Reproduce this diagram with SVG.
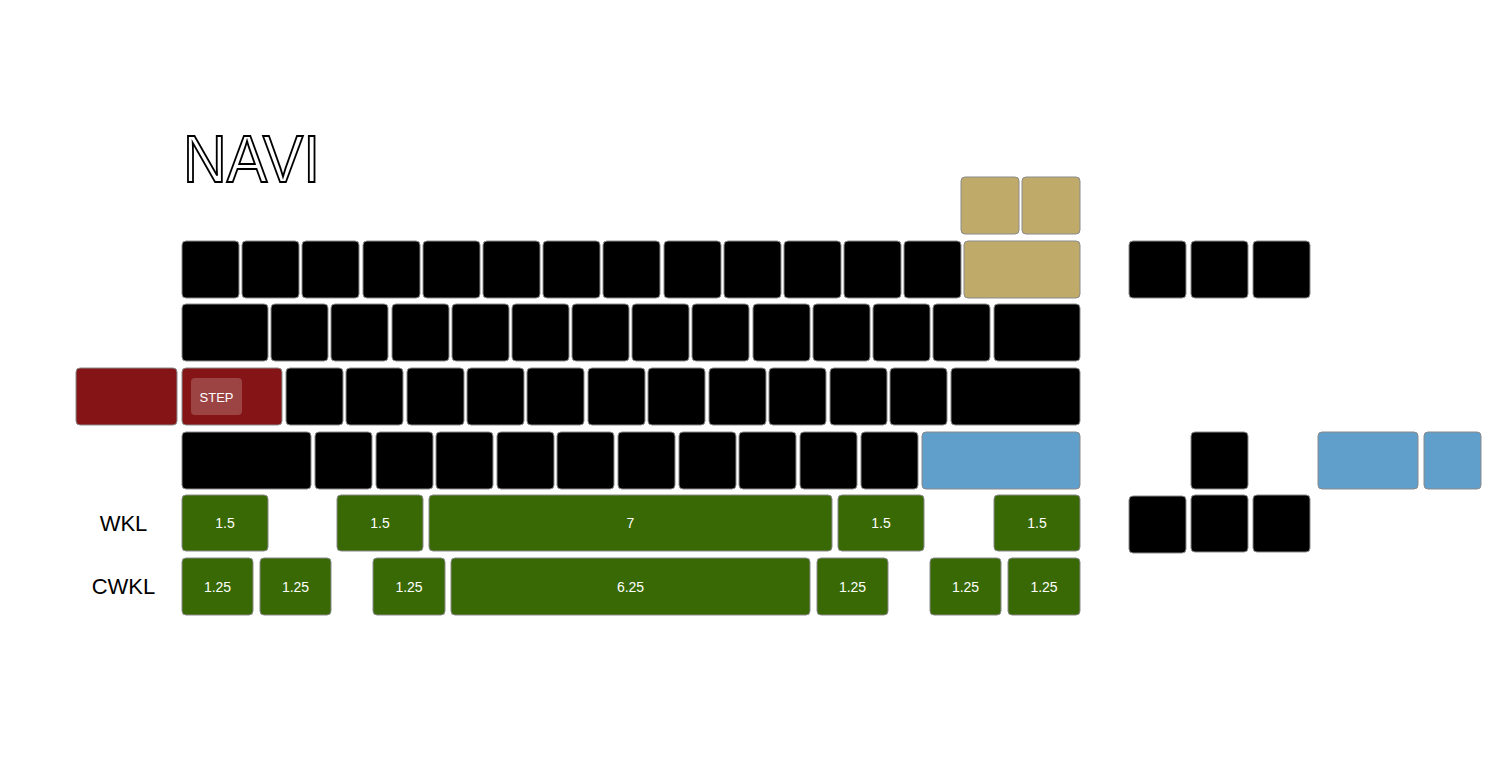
<svg xmlns="http://www.w3.org/2000/svg" width="1512" height="772" viewBox="0 0 1512 772">
<style>
.k{stroke:#8a8a8a;stroke-width:1}
.b{fill:#000}
.t{fill:#c0aa6a}
.r{fill:#841416}
.bl{fill:#609ecb}
.g{fill:#386904}
.lbl{font-family:"Liberation Sans",Arial,sans-serif;font-size:14px;fill:#fff;text-anchor:middle;dominant-baseline:central}
.row{font-family:"Liberation Sans",Arial,sans-serif;font-size:22px;fill:#000;text-anchor:middle;dominant-baseline:central}
</style>
<rect width="1512" height="772" fill="#fff"/>
<text id="title" x="183" y="182" font-family="Liberation Sans, Arial, sans-serif" font-size="66" fill="#fff" stroke="#000" stroke-width="2" textLength="137" lengthAdjust="spacingAndGlyphs">NAVI</text>
<g id="row0">
<rect class="k t" x="961" y="177" width="58" height="57" rx="4"/>
<rect class="k t" x="1022" y="177" width="58" height="57" rx="4"/>
</g>
<g id="row1">
<rect class="k b" x="182" y="241" width="57" height="57" rx="4"/>
<rect class="k b" x="242" y="241" width="57" height="57" rx="4"/>
<rect class="k b" x="302" y="241" width="57" height="57" rx="4"/>
<rect class="k b" x="363" y="241" width="57" height="57" rx="4"/>
<rect class="k b" x="423" y="241" width="57" height="57" rx="4"/>
<rect class="k b" x="483" y="241" width="57" height="57" rx="4"/>
<rect class="k b" x="543" y="241" width="57" height="57" rx="4"/>
<rect class="k b" x="603" y="241" width="57" height="57" rx="4"/>
<rect class="k b" x="664" y="241" width="57" height="57" rx="4"/>
<rect class="k b" x="724" y="241" width="57" height="57" rx="4"/>
<rect class="k b" x="784" y="241" width="57" height="57" rx="4"/>
<rect class="k b" x="844" y="241" width="57" height="57" rx="4"/>
<rect class="k b" x="904" y="241" width="57" height="57" rx="4"/>
<rect class="k t" x="964" y="241" width="116" height="57" rx="4"/>
</g>
<g id="row2">
<rect class="k b" x="182" y="304" width="86" height="57" rx="4"/>
<rect class="k b" x="271" y="304" width="57" height="57" rx="4"/>
<rect class="k b" x="331" y="304" width="57" height="57" rx="4"/>
<rect class="k b" x="392" y="304" width="57" height="57" rx="4"/>
<rect class="k b" x="452" y="304" width="57" height="57" rx="4"/>
<rect class="k b" x="512" y="304" width="57" height="57" rx="4"/>
<rect class="k b" x="572" y="304" width="57" height="57" rx="4"/>
<rect class="k b" x="632" y="304" width="57" height="57" rx="4"/>
<rect class="k b" x="692" y="304" width="57" height="57" rx="4"/>
<rect class="k b" x="753" y="304" width="57" height="57" rx="4"/>
<rect class="k b" x="813" y="304" width="57" height="57" rx="4"/>
<rect class="k b" x="873" y="304" width="57" height="57" rx="4"/>
<rect class="k b" x="933" y="304" width="57" height="57" rx="4"/>
<rect class="k b" x="994" y="304" width="86" height="57" rx="4"/>
</g>
<g id="row3">
<rect class="k r" x="76" y="368" width="101" height="57" rx="4"/>
<rect class="k r" x="182" y="368" width="100" height="57" rx="4"/>
<rect x="191" y="378" width="51" height="37" rx="4" fill="#fff" fill-opacity="0.2"/>
<text x="216.5" y="397" font-family="Liberation Sans, Arial, sans-serif" font-size="13" fill="#fff" text-anchor="middle" dominant-baseline="central">STEP</text>
<rect class="k b" x="286" y="368" width="57" height="57" rx="4"/>
<rect class="k b" x="346" y="368" width="57" height="57" rx="4"/>
<rect class="k b" x="407" y="368" width="57" height="57" rx="4"/>
<rect class="k b" x="467" y="368" width="57" height="57" rx="4"/>
<rect class="k b" x="527" y="368" width="57" height="57" rx="4"/>
<rect class="k b" x="588" y="368" width="57" height="57" rx="4"/>
<rect class="k b" x="648" y="368" width="57" height="57" rx="4"/>
<rect class="k b" x="709" y="368" width="57" height="57" rx="4"/>
<rect class="k b" x="769" y="368" width="57" height="57" rx="4"/>
<rect class="k b" x="830" y="368" width="57" height="57" rx="4"/>
<rect class="k b" x="890" y="368" width="57" height="57" rx="4"/>
<rect class="k b" x="951" y="368" width="129" height="57" rx="4"/>
</g>
<g id="row4">
<rect class="k b" x="182" y="432" width="129" height="57" rx="4"/>
<rect class="k b" x="315" y="432" width="57" height="57" rx="4"/>
<rect class="k b" x="376" y="432" width="57" height="57" rx="4"/>
<rect class="k b" x="436" y="432" width="57" height="57" rx="4"/>
<rect class="k b" x="497" y="432" width="57" height="57" rx="4"/>
<rect class="k b" x="557" y="432" width="57" height="57" rx="4"/>
<rect class="k b" x="618" y="432" width="57" height="57" rx="4"/>
<rect class="k b" x="679" y="432" width="57" height="57" rx="4"/>
<rect class="k b" x="739" y="432" width="57" height="57" rx="4"/>
<rect class="k b" x="800" y="432" width="57" height="57" rx="4"/>
<rect class="k b" x="861" y="432" width="57" height="57" rx="4"/>
<rect class="k bl" x="922" y="432" width="158" height="57" rx="4"/>
</g>
<g id="wkl">
<text class="row" x="123.5" y="523">WKL</text>
<rect class="k g" x="182" y="495" width="86" height="56" rx="4"/><text class="lbl" x="225" y="523">1.5</text>
<rect class="k g" x="337" y="495" width="86" height="56" rx="4"/><text class="lbl" x="380" y="523">1.5</text>
<rect class="k g" x="429" y="495" width="403" height="56" rx="4"/><text class="lbl" x="630.5" y="523">7</text>
<rect class="k g" x="838" y="495" width="86" height="56" rx="4"/><text class="lbl" x="881" y="523">1.5</text>
<rect class="k g" x="994" y="495" width="86" height="56" rx="4"/><text class="lbl" x="1037" y="523">1.5</text>
</g>
<g id="cwkl">
<text class="row" x="123.5" y="586">CWKL</text>
<rect class="k g" x="182" y="558" width="71" height="57" rx="4"/><text class="lbl" x="217.5" y="587">1.25</text>
<rect class="k g" x="260" y="558" width="71" height="57" rx="4"/><text class="lbl" x="295.5" y="587">1.25</text>
<rect class="k g" x="373" y="558" width="72" height="57" rx="4"/><text class="lbl" x="409" y="587">1.25</text>
<rect class="k g" x="451" y="558" width="359" height="57" rx="4"/><text class="lbl" x="630.5" y="587">6.25</text>
<rect class="k g" x="817" y="558" width="71" height="57" rx="4"/><text class="lbl" x="852.5" y="587">1.25</text>
<rect class="k g" x="930" y="558" width="71" height="57" rx="4"/><text class="lbl" x="965.5" y="587">1.25</text>
<rect class="k g" x="1008" y="558" width="72" height="57" rx="4"/><text class="lbl" x="1044" y="587">1.25</text>
</g>
<g id="nav">
<rect class="k b" x="1129" y="241" width="57" height="57" rx="4"/>
<rect class="k b" x="1191" y="241" width="57" height="57" rx="4"/>
<rect class="k b" x="1253" y="241" width="57" height="57" rx="4"/>
</g>
<g id="arrows">
<rect class="k b" x="1191" y="432" width="57" height="57" rx="4"/>
<rect class="k b" x="1129" y="496" width="57" height="57" rx="4"/>
<rect class="k b" x="1191" y="495" width="57" height="57" rx="4"/>
<rect class="k b" x="1253" y="495" width="57" height="57" rx="4"/>
</g>
<g id="extra">
<rect class="k bl" x="1318" y="432" width="100" height="57" rx="4"/>
<rect class="k bl" x="1424" y="432" width="57" height="57" rx="4"/>
</g>
<g id="connectors"/>
</svg>
